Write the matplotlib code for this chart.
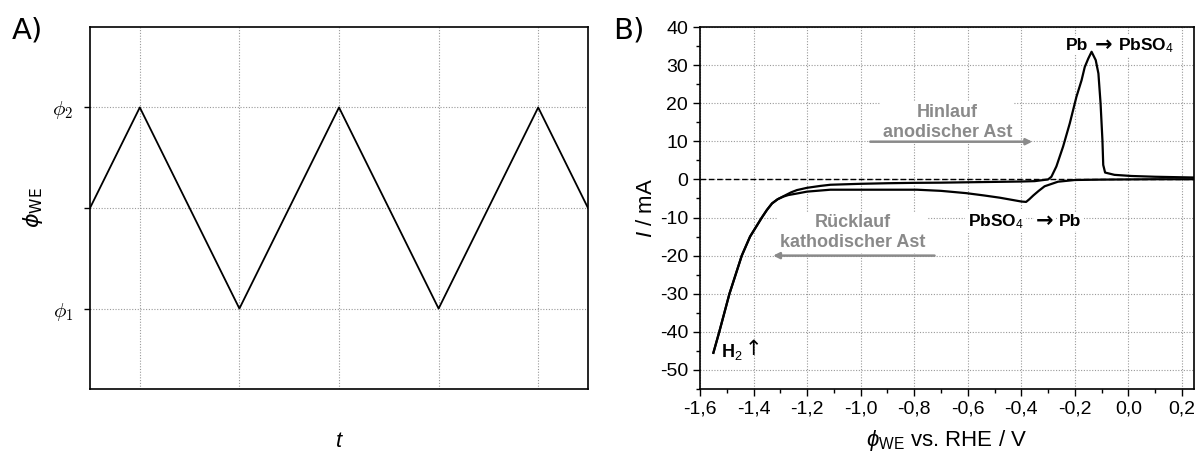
import matplotlib
matplotlib.use("Agg")
import matplotlib.pyplot as plt
from matplotlib.ticker import FixedLocator, MultipleLocator

plt.rcParams['font.family'] = ['Liberation Sans', 'DejaVu Sans']
plt.rcParams['mathtext.fontset'] = 'custom'
plt.rcParams['mathtext.rm'] = 'Liberation Sans'
plt.rcParams['mathtext.it'] = 'Liberation Sans:italic'
plt.rcParams['mathtext.bf'] = 'Liberation Sans:bold'
plt.rcParams['axes.unicode_minus'] = False

# ---------------- data ----------------
# Panel A: triangular potential sweep
t_pts = [0, 1, 3, 5, 7, 9, 10]
phi_pts = [0, 1, -1, 1, -1, 1, 0]
phiA_ticks = [-1, 0, 1]
phiA_labels = [r'$\phi_\mathbf{1}$', '', r'$\phi_\mathbf{2}$']
tA_grid = [1, 3, 5, 7, 9]

# Panel B: cyclic voltammogram
v_fwd = [-1.550, -1.528, -1.49, -1.444, -1.413, -1.369, -1.35, -1.331, -1.31, -1.288,
         -1.26, -1.238, -1.20, -1.15, -1.113, -1.00, -0.90, -0.80, -0.70, -0.60,
         -0.50, -0.40, -0.35, -0.30, -0.2876, -0.269, -0.244, -0.219, -0.194, -0.175,
         -0.163, -0.150, -0.1375, -0.122, -0.112, -0.104, -0.097, -0.094, -0.087, -0.052,
         0.012, 0.10, 0.245]
i_fwd = [-45.5, -40.0, -30.0, -20.0, -15.0, -10.0, -8.0, -6.3, -5.2, -4.4,
         -3.4, -2.8, -2.2, -1.7, -1.4, -1.15, -1.0, -0.9, -0.85, -0.75,
         -0.65, -0.55, -0.45, 0.0, 0.7, 3.4, 8.6, 14.7, 21.7, 26.0,
         29.5, 31.7, 33.5, 31.3, 27.8, 20.0, 10.3, 3.8, 1.8, 1.2,
         0.9, 0.7, 0.5]

v_rev = [0.245, 0.10, 0.0, -0.10, -0.20, -0.263, -0.313, -0.335, -0.355, -0.37,
         -0.382, -0.40, -0.44, -0.48, -0.54, -0.606, -0.70, -0.79, -0.90, -1.00,
         -1.113, -1.20, -1.238, -1.27, -1.288, -1.31, -1.331, -1.35, -1.369, -1.413,
         -1.444, -1.49, -1.528, -1.550]
i_rev = [0.05, 0.05, 0.0, -0.05, -0.15, -0.6, -1.8, -3.0, -4.2, -5.2,
         -5.9, -5.8, -5.3, -4.8, -4.2, -3.6, -3.0, -2.7, -2.7, -2.7,
         -2.7, -3.2, -3.7, -4.1, -4.5, -5.2, -6.3, -8.0, -10.0, -15.0,
         -20.0, -30.0, -40.0, -45.5]

vB_ticks = [-1.6, -1.4, -1.2, -1.0, -0.8, -0.6, -0.4, -0.2, 0.0, 0.2]
iB_ticks = [-50, -40, -30, -20, -10, 0, 10, 20, 30, 40]

# ---------------- figure ----------------
W, H = 1197, 454
fig = plt.figure(figsize=(W / 100, H / 100), dpi=100)

def rect(x0, y0, x1, y1):
    return [x0 / W, 1 - y1 / H, (x1 - x0) / W, (y1 - y0) / H]

grid_kw = dict(color='#999999', lw=0.8, ls=(0, (1, 1.5)))

# ---- Panel A ----
axA = fig.add_axes(rect(90, 27, 588, 389))
axA.plot(t_pts, phi_pts, color='black', lw=1.3, zorder=3)
axA.set_xlim(0, 10)
axA.set_ylim(-1.8, 1.8)
axA.xaxis.set_major_locator(FixedLocator(tA_grid))
axA.set_xticklabels([])
axA.yaxis.set_major_locator(FixedLocator(phiA_ticks))
axA.set_yticklabels(phiA_labels, fontsize=15)
for lbl in axA.get_yticklabels():
    lbl.set_math_fontfamily('cm')
axA.tick_params(axis='x', length=0)
axA.tick_params(axis='y', length=4, width=1.0, direction='out', pad=8)
axA.grid(True, **grid_kw)
for s in axA.spines.values():
    s.set_linewidth(1.2)
axA.set_ylabel(r'$\phi_\mathrm{WE}$', fontsize=16, math_fontfamily='dejavusans')
axA.yaxis.set_label_coords(-0.09, 0.5)
axA.set_xlabel(r'$t$', fontsize=16, labelpad=27)
fig.text(12 / W, 1 - 30 / H, 'A)', fontsize=21, va='center', ha='left', family='DejaVu Sans')

# ---- Panel B ----
gray = '#8a8a8a'
axB = fig.add_axes(rect(700, 27, 1194, 389))
axB.axhline(0, color='black', lw=1.0, ls=(0, (4, 2)), zorder=2)
axB.plot(v_fwd, i_fwd, color='black', lw=1.6, zorder=5)
axB.plot(v_rev, i_rev, color='black', lw=1.6, zorder=5)
axB.set_xlim(-1.6, 0.245)
axB.set_ylim(-55, 40)
axB.xaxis.set_major_locator(FixedLocator(vB_ticks))
axB.set_xticklabels([f'{v:.1f}'.replace('.', ',') for v in vB_ticks])
axB.xaxis.set_minor_locator(MultipleLocator(0.1))
axB.yaxis.set_major_locator(FixedLocator(iB_ticks))
axB.set_yticklabels([str(v) for v in iB_ticks])
axB.yaxis.set_minor_locator(MultipleLocator(5))
axB.tick_params(which='major', length=5, width=1.0, direction='out', labelsize=14)
axB.tick_params(which='minor', length=3, width=1.0, direction='out')
axB.grid(True, which='major', **grid_kw)
for s in axB.spines.values():
    s.set_linewidth(1.2)
axB.set_ylabel(r'$I$ / mA', fontsize=16, labelpad=2)
axB.set_xlabel(r'$\phi_\mathrm{WE}$ vs. RHE / V', fontsize=16, labelpad=7)
fig.text(613 / W, 1 - 30 / H, 'B)', fontsize=21, va='center', ha='left', family='DejaVu Sans')

box = dict(facecolor='white', edgecolor='none', pad=1.5)
lab_kw = dict(fontsize=12.5, fontweight='bold', va='center', bbox=box, zorder=4)
arr_kw = dict(fontsize=15, fontweight='bold', family='DejaVu Sans', ha='center',
              va='center', bbox=box, zorder=4)
# Pb -> PbSO4 (oxidation peak)
axB.text(-0.151, 35.2, 'Pb', ha='right', **lab_kw)
axB.text(-0.093, 35.4, '→', **arr_kw)
axB.text(-0.038, 35.2, 'PbSO$_4$', ha='left', **lab_kw)
# PbSO4 -> Pb (reduction)
axB.text(-0.392, -11.1, 'PbSO$_4$', ha='right', **lab_kw)
axB.text(-0.312, -10.9, '→', **arr_kw)
axB.text(-0.258, -11.1, 'Pb', ha='left', **lab_kw)

axB.text(-0.676, 15.0, 'Hinlauf\nanodischer Ast', fontsize=13, fontweight='bold',
         color=gray, ha='center', va='center', bbox=box, zorder=4, linespacing=1.2)
axB.text(-1.03, -14.0, 'Rücklauf\nkathodischer Ast', fontsize=13, fontweight='bold',
         color=gray, ha='center', va='center', bbox=box, zorder=4, linespacing=1.2)
axB.text(-1.522, -45.4, 'H$_2$', fontsize=13, fontweight='bold', ha='left', va='center', zorder=4)
axB.text(-1.40, -44.4, '↑', fontsize=15, family='DejaVu Sans', ha='center', va='center', zorder=4)

arrow_kw = dict(arrowstyle='-|>', color=gray, lw=1.8, mutation_scale=9, shrinkA=0, shrinkB=0)
axB.annotate('', xy=(-0.359, 9.9), xytext=(-0.964, 9.9), arrowprops=arrow_kw, zorder=4)
axB.annotate('', xy=(-1.327, -20), xytext=(-0.724, -20), arrowprops=arrow_kw, zorder=4)

fig.savefig('out.png', dpi=100)
